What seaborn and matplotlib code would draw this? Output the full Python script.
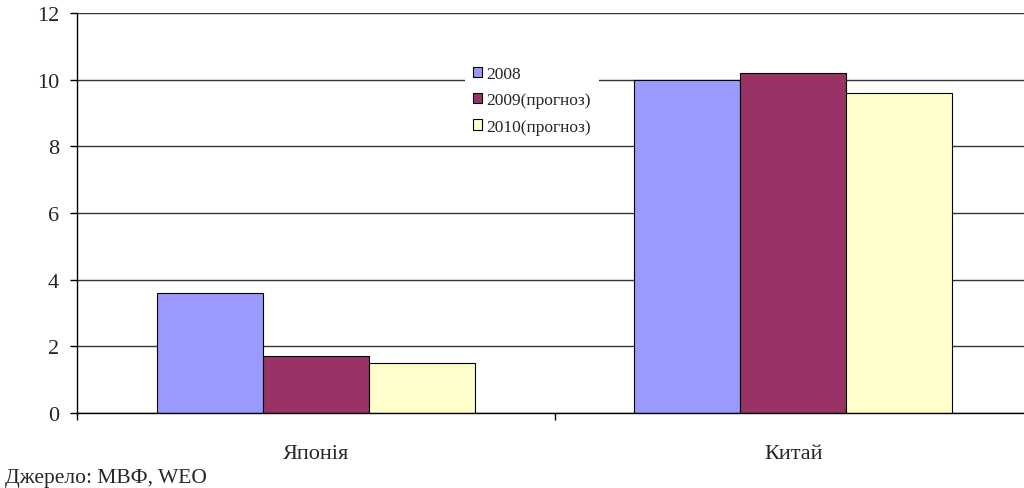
import matplotlib
matplotlib.use("Agg")
import matplotlib.pyplot as plt
from matplotlib.patches import Patch
from matplotlib.ticker import FixedLocator
import seaborn as sns
import pandas as pd

countries = ["Японія", "Китай"]
series = ["2008", "2009(прогноз)", "2010(прогноз)"]
values_2008 = [3.6, 10.0]
values_2009 = [1.7, 10.2]
values_2010 = [1.5, 9.6]
colors = ["#9999FF", "#993366", "#FFFFCC"]
y_ticks = [0, 2, 4, 6, 8, 10, 12]
source_text = "Джерело: МВФ, WEO"

df = pd.DataFrame({
    "country": countries * 3,
    "series": [s for s in series for _ in countries],
    "value": values_2008 + values_2009 + values_2010,
})

sns.set_theme(style="white")
plt.rcParams["font.family"] = ["Liberation Serif", "DejaVu Serif"]

fig = plt.figure(figsize=(10.24, 4.89), dpi=100)
ax = fig.add_axes([77 / 1024, 1 - 414 / 489, (1032 - 77) / 1024, 400 / 489])

sns.barplot(data=df, x="country", y="value", hue="series", order=countries,
            hue_order=series, palette=colors, width=2 / 3, gap=0,
            edgecolor="black", linewidth=0.8, saturation=1, ax=ax, legend=False)

ax.set_xlim(-0.5, 1.5)
ax.set_ylim(0, 12)
ax.set_yticks(y_ticks)
ax.set_yticklabels([str(t) for t in y_ticks], fontsize=16)
ax.yaxis.grid(True, color="#333333", linewidth=1.0)
ax.set_axisbelow(True)

# category boundaries get tick marks, labels sit at the centres
ax.xaxis.set_major_locator(FixedLocator([-0.5, 0.5, 1.5]))
ax.set_xticklabels(["", "", ""])
ax.xaxis.set_minor_locator(FixedLocator([0, 1]))
ax.set_xticklabels(countries, minor=True, fontsize=16)
ax.tick_params(axis="x", which="major", direction="out", length=5, width=1, color="black", bottom=True)
ax.tick_params(axis="x", which="minor", length=0, pad=22.5, bottom=True)
ax.tick_params(axis="y", direction="out", length=5, width=1, color="black", pad=8, left=True)
ax.set_xlabel("")
ax.set_ylabel("")

for side in ["top", "right"]:
    ax.spines[side].set_visible(False)
for side in ["left", "bottom"]:
    ax.spines[side].set_color("black")
    ax.spines[side].set_linewidth(1.0)

handles = [Patch(facecolor=c, edgecolor="black", linewidth=0.8) for c in colors]
leg = fig.legend(handles, series, loc="upper left",
                 bbox_to_anchor=(465 / 1024, 1 - 59 / 489),
                 fontsize=12.5, frameon=True, fancybox=False, borderpad=0.45,
                 handlelength=0.52, handleheight=0.52, handletextpad=0.25,
                 labelspacing=0.6, borderaxespad=0)
leg.get_frame().set_facecolor("white")
leg.get_frame().set_edgecolor("none")
leg.get_frame().set_alpha(1)

fig.text(5 / 1024, 1 - 479 / 489, source_text, fontsize=15.5, va="center", ha="left")

fig.savefig("out.png", dpi=100)
